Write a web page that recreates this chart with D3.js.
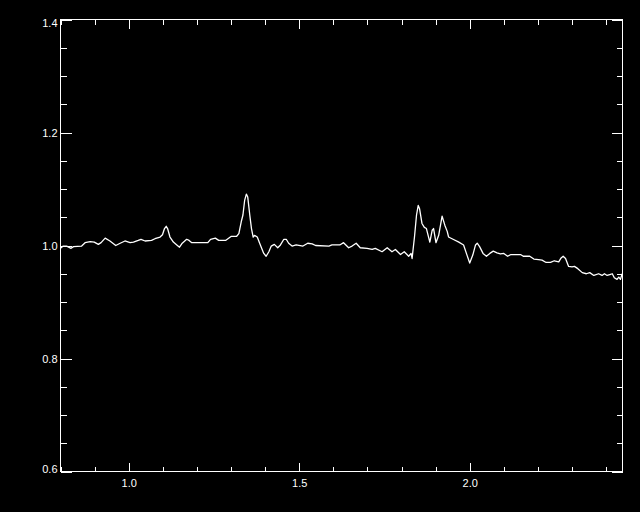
<!DOCTYPE html>
<html>
<head>
<meta charset="utf-8">
<script src="https://cdn.jsdelivr.net/npm/d3@7"></script>
<style>
  html, body { margin: 0; padding: 0; background: #000; }
  svg { display: block; }
  .axis text { font-family: "Liberation Sans", Arial, sans-serif; font-size: 11px; fill: #fff; }
  .axis path, .axis line { stroke: #fff; stroke-width: 1; shape-rendering: crispEdges; }
</style>
</head>
<body>
<svg id="chart" width="640" height="512"></svg>
<script>
// Data (wavelength-like x, normalized flux y)
const xValues = [0.800,0.808,0.818,0.831,0.838,0.862,0.872,0.887,0.899,0.911,0.919,0.931,0.945,0.962,0.975,0.989,
  1.004,1.014,1.028,1.036,1.048,1.067,1.077,1.092,1.099,1.105,1.110,1.114,1.121,1.131,1.141,1.149,1.157,1.170,1.177,1.185,
  1.219,1.232,1.240,1.254,1.264,1.284,1.300,1.316,1.323,1.330,1.335,1.340,1.345,1.349,1.355,1.360,1.365,1.369,1.377,1.384,
  1.396,1.403,1.411,1.418,1.427,1.437,1.445,1.455,1.462,1.469,1.479,1.491,1.511,1.525,1.538,1.548,1.587,1.596,1.619,1.630,
  1.645,1.655,1.667,1.679,1.699,1.714,1.723,1.743,1.758,1.772,1.782,1.797,1.808,1.821,1.828,1.831,1.838,1.844,1.849,1.853,
  1.860,1.867,1.873,1.883,1.890,1.894,1.901,1.909,1.919,1.927,1.934,1.938,1.951,1.968,1.982,1.992,2.000,2.009,2.017,2.022,
  2.029,2.039,2.049,2.059,2.069,2.080,2.090,2.100,2.111,2.121,2.149,2.157,2.176,2.188,2.202,2.212,2.224,2.237,2.248,2.261,
  2.268,2.274,2.281,2.290,2.300,2.307,2.317,2.330,2.342,2.352,2.364,2.378,2.388,2.395,2.403,2.413,2.418,2.424,2.432,2.437,
  2.442,2.447];
const yValues = [0.995,0.999,0.999,0.995,0.998,0.999,1.005,1.007,1.006,1.002,1.005,1.013,1.008,1.000,1.004,1.008,
  1.005,1.006,1.009,1.011,1.008,1.009,1.012,1.015,1.019,1.030,1.034,1.030,1.015,1.006,1.001,0.997,1.004,1.011,1.009,1.005,
  1.005,1.005,1.011,1.013,1.009,1.009,1.016,1.016,1.021,1.042,1.054,1.080,1.091,1.086,1.054,1.030,1.015,1.018,1.015,1.004,
  0.986,0.981,0.989,0.999,1.002,0.996,1.001,1.011,1.011,1.004,0.999,1.001,0.999,1.004,1.003,1.000,0.999,1.001,1.001,1.005,
  0.996,0.999,1.004,0.996,0.995,0.993,0.995,0.989,0.996,0.989,0.993,0.984,0.989,0.981,0.986,0.977,1.015,1.054,1.071,1.065,
  1.039,1.032,1.030,1.006,1.027,1.030,1.005,1.018,1.052,1.036,1.025,1.015,1.011,1.006,1.001,0.983,0.969,0.983,1.001,1.004,
  0.998,0.986,0.981,0.986,0.990,0.987,0.985,0.986,0.981,0.984,0.984,0.981,0.981,0.976,0.975,0.974,0.970,0.970,0.973,0.971,
  0.978,0.981,0.977,0.963,0.962,0.963,0.959,0.952,0.950,0.952,0.947,0.950,0.947,0.950,0.947,0.949,0.950,0.943,0.940,0.944,
  0.940,0.950];

const xDomain = [0.8, 2.448];
const yDomain = [0.6, 1.4];
const xMajorTicks = [1.0, 1.5, 2.0];
const xMinorTicks = [0.8,0.9,1.0,1.1,1.2,1.3,1.4,1.5,1.6,1.7,1.8,1.9,2.0,2.1,2.2,2.3,2.4];
const yMajorTicks = [0.6, 0.8, 1.0, 1.2, 1.4];
const yMinorTicks = [0.6,0.65,0.7,0.75,0.8,0.85,0.9,0.95,1.0,1.05,1.1,1.15,1.2,1.25,1.3,1.35,1.4];

const svg = d3.select("#chart");
const pLeft = 60.5, pRight = 622.5, pTop = 19.5, pBottom = 471.5;

const x = d3.scaleLinear().domain(xDomain).range([pLeft, pRight]);
const y = d3.scaleLinear().domain(yDomain).range([pBottom, pTop]);

svg.append("rect").attr("width", 640).attr("height", 512).attr("fill", "#000");

const fmt = d3.format(".1f");

// Frame
svg.append("rect")
  .attr("x", pLeft).attr("y", pTop)
  .attr("width", pRight - pLeft).attr("height", pBottom - pTop)
  .attr("fill", "none").attr("stroke", "#fff").attr("stroke-width", 1)
  .attr("shape-rendering", "crispEdges");

// Left axis
const gl = svg.append("g").attr("class", "axis").attr("transform", `translate(${pLeft},0)`);
gl.call(d3.axisLeft(y).tickValues(yMinorTicks).tickSize(-6).tickFormat(""));
const glm = svg.append("g").attr("class", "axis").attr("transform", `translate(${pLeft},0)`);
glm.call(d3.axisLeft(y).tickValues(yMajorTicks).tickSizeInner(-11).tickSizeOuter(0).tickPadding(3).tickFormat(fmt));
glm.selectAll(".tick text").attr("dy", d => d === 1.4 ? "0.65em" : (d === 0.6 ? "0.05em" : "0.38em"));

// Right axis
const gr = svg.append("g").attr("class", "axis").attr("transform", `translate(${pRight},0)`);
gr.call(d3.axisRight(y).tickValues(yMinorTicks).tickSize(-6).tickFormat(""));
const grm = svg.append("g").attr("class", "axis").attr("transform", `translate(${pRight},0)`);
grm.call(d3.axisRight(y).tickValues(yMajorTicks).tickSize(-11).tickFormat(""));

// Bottom axis
const gb = svg.append("g").attr("class", "axis").attr("transform", `translate(0,${pBottom})`);
gb.call(d3.axisBottom(x).tickValues(xMinorTicks).tickSize(-5).tickFormat(""));
const gbm = svg.append("g").attr("class", "axis").attr("transform", `translate(0,${pBottom})`);
gbm.call(d3.axisBottom(x).tickValues(xMajorTicks).tickSizeInner(-9).tickSizeOuter(0).tickPadding(8).tickFormat(fmt));

// Top axis
const gt = svg.append("g").attr("class", "axis").attr("transform", `translate(0,${pTop})`);
gt.call(d3.axisTop(x).tickValues(xMinorTicks).tickSize(-5).tickFormat(""));
const gtm = svg.append("g").attr("class", "axis").attr("transform", `translate(0,${pTop})`);
gtm.call(d3.axisTop(x).tickValues(xMajorTicks).tickSize(-9).tickFormat(""));

svg.selectAll(".axis .domain").remove();

// Data line
const data = xValues.map((v, i) => [v, yValues[i]]);
svg.append("path")
  .datum(data)
  .attr("fill", "none")
  .attr("stroke", "#fff")
  .attr("stroke-width", 1.3)
  .attr("stroke-linejoin", "round")
  .attr("d", d3.line().x(d => x(d[0])).y(d => y(d[1])));
</script>
</body>
</html>
